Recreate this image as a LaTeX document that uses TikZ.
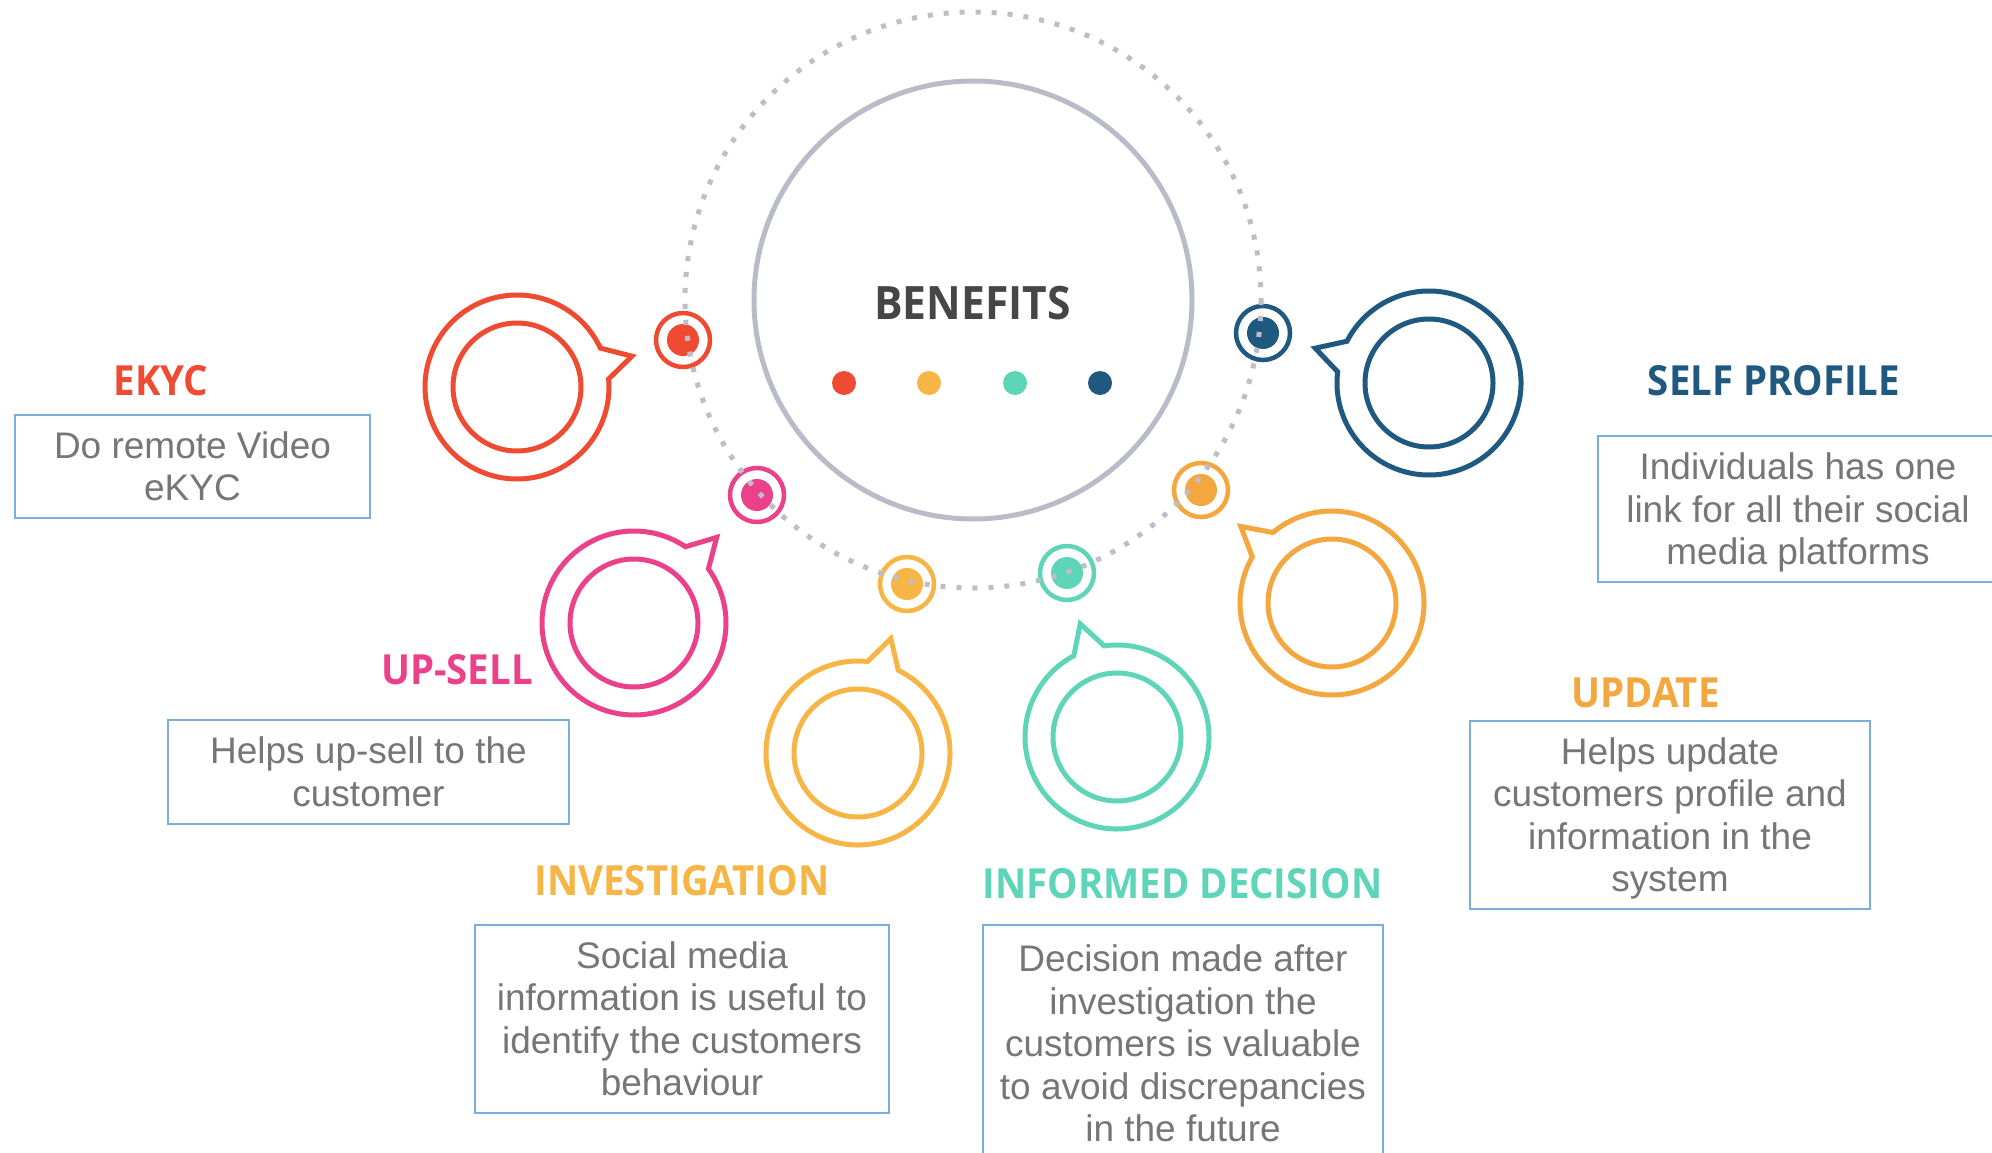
\documentclass[tikz,border=0pt]{standalone}
\usepackage{fontspec}
\setmainfont{Liberation Sans}
\newfontfamily\headfont{Open Sans}[FakeStretch=0.925]
\usetikzlibrary{calc}
\definecolor{cRed}{RGB}{239,75,51}
\definecolor{cPink}{RGB}{234,65,138}
\definecolor{cYellow}{RGB}{246,181,69}
\definecolor{cTeal}{RGB}{94,213,185}
\definecolor{cOrange}{RGB}{244,166,63}
\definecolor{cNavy}{RGB}{31,89,128}
\definecolor{descgray}{RGB}{118,118,118}
\definecolor{boxblue}{RGB}{122,174,221}
\definecolor{ringgray}{RGB}{185,188,200}
\definecolor{dotgray}{RGB}{190,190,202}
\definecolor{titlegray}{RGB}{70,70,70}
\newcommand\benstrut{\rule[-8.25pt]{0pt}{42.5pt}}
\tikzset{
  ringline/.style={line width=4.5pt},
  bubbleline/.style={line width=5pt, line join=miter},
  dotline/.style={draw=dotgray, line width=5pt, dash pattern=on 5pt off 11pt},
  descbox/.style={draw=boxblue, line width=1.5pt, inner sep=0pt, align=center,
    text=descgray, font=\fontsize{37}{42.5}\selectfont},
  headlabel/.style={anchor=base, font=\headfont\bfseries\fontsize{41.5}{48}\selectfont},
}
\newcommand\benbubble[5]{% name, x, y, tail angle, colour
  \coordinate (#1) at (#2,#3);
  \draw[bubbleline, draw=#5] ($(#1)+(#4+10:92)$) arc[start angle=#4+10, end angle=#4+350, radius=92]
     -- ($(#1)+(#4:119)$) -- cycle;
  \draw[bubbleline, draw=#5] (#1) circle[radius=64];
}
\newcommand\benring[4]{% name, x, y, colour
  \coordinate (#1) at (#2,#3);
  \draw[ringline, draw=#4] (#1) circle[radius=27];
  \fill[#4] (#1) circle[radius=16];
}
\begin{document}
\begin{tikzpicture}[x=1pt, y=-1pt]
\fill[white] (0,0) rectangle (1992,1153);
\useasboundingbox (0,0) rectangle (1992,1153);

% description boxes
\node[descbox, minimum width=355, minimum height=103] (dEkyc) at (192.5,466.5)
  {\benstrut Do remote Video\\\benstrut eKYC};
\node[descbox, minimum width=401, minimum height=104] (dUp) at (368.5,772)
  {\benstrut Helps up-sell to the\\\benstrut customer};
\node[descbox, minimum width=414, minimum height=188] (dInv) at (682,1019)
  {\benstrut Social media\\\benstrut information is useful to\\\benstrut identify the customers\\\benstrut behaviour};
\node[descbox, minimum width=400, minimum height=237] (dInf) at (1183,1043.5)
  {\benstrut Decision made after\\\benstrut investigation the\\\benstrut customers is valuable\\\benstrut to avoid discrepancies\\\benstrut in the future};
\node[descbox, minimum width=400, minimum height=146] (dSelf) at (1798,509)
  {\benstrut Individuals has one\\\benstrut link for all their social\\\benstrut media platforms};
\node[descbox, minimum width=400, minimum height=188] (dUpd) at (1670,815)
  {\benstrut Helps update\\\benstrut customers profile and\\\benstrut information in the\\\benstrut system};

% headings
\node[headlabel, text=cRed] (lEkyc) at (161,395) {EKYC};
\node[headlabel, text=cPink] (lUp) at (457,684) {UP-SELL};
\node[headlabel, text=cYellow] (lInv) at (682,895) {INVESTIGATION};
\node[headlabel, text=cTeal] (lInf) at (1182.5,898) {INFORMED DECISION};
\node[headlabel, text=cNavy] (lSelf) at (1774,395) {SELF PROFILE};
\node[headlabel, text=cOrange] (lUpd) at (1645.5,707) {UPDATE};

% speech bubbles
\benbubble{bRed}{517}{387}{-15}{cRed}
\benbubble{bPink}{634}{623}{-46}{cPink}
\benbubble{bInv}{858}{753}{-74}{cYellow}
\benbubble{bTeal}{1117}{737}{-108}{cTeal}
\benbubble{bUpd}{1332}{603}{-140}{cOrange}
\benbubble{bNavy}{1429}{383}{-163}{cNavy}

% rings on the dotted orbit
\benring{rRed}{683}{340}{cRed}
\benring{rPink}{757}{495}{cPink}
\benring{rInv}{907}{584}{cYellow}
\benring{rTeal}{1067}{573}{cTeal}
\benring{rUpd}{1201}{490}{cOrange}
\benring{rNavy}{1263}{333}{cNavy}

% centre
\coordinate (ctr) at (973,300);
\draw[dotline] (ctr) circle[radius=288];
\draw[draw=ringgray, line width=5pt] (ctr) circle[radius=219];
\node[anchor=base, text=titlegray, font=\headfont\bfseries\fontsize{46}{54}\selectfont] (title) at (972.5,319) {BENEFITS};
\fill[cRed] (844,383) circle[radius=12];
\fill[cYellow] (929,383) circle[radius=12];
\fill[cTeal] (1015,383) circle[radius=12];
\fill[cNavy] (1100,383) circle[radius=12];
\end{tikzpicture}
\end{document}
